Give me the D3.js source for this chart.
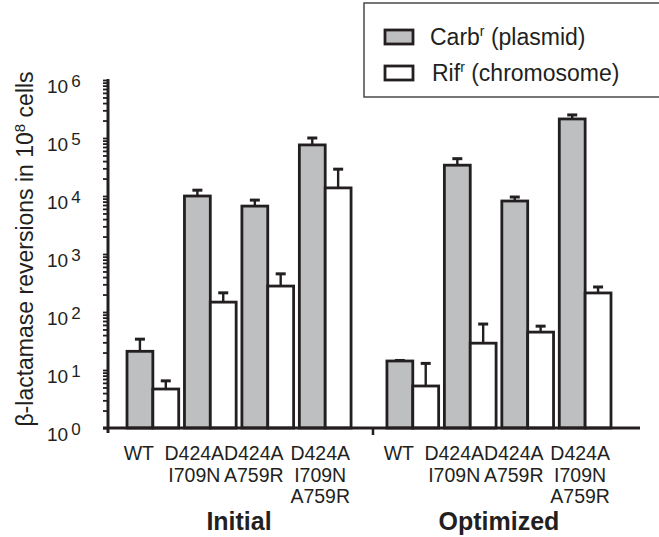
<!DOCTYPE html>
<html>
<head>
<meta charset="utf-8">
<script src="https://cdn.jsdelivr.net/npm/d3@7"></script>
<style>
  body { margin: 0; background: #fff; }
  text { font-family: "Liberation Sans", Arial, Helvetica, sans-serif; fill: #231f20; }
</style>
</head>
<body>
<script>
// data (reversions per 10^8 cells, log scale)
var groups = ["Initial", "Optimized"];
var mutants = ["WT", "D424A I709N", "D424A A759R", "D424A I709N A759R"];
var series = ["carb", "rif"];
var seriesNames = ["Carb", "Rif"];
var seriesNotes = ["(plasmid)", "(chromosome)"];

var carbInitial = [21, 10000, 6700, 76000];
var carbInitialHi = [34, 12600, 8500, 100000];
var rifInitial = [4.7, 148, 280, 13800];
var rifInitialHi = [6.5, 214, 455, 29000];

var carbOptimized = [14.3, 34000, 8200, 213000];
var carbOptimizedHi = [14.6, 44000, 9600, 250000];
var rifOptimized = [5.3, 29, 45, 213];
var rifOptimizedHi = [13, 62, 57, 270];

var yTicks = [1, 10, 100, 1000, 10000, 100000, 1000000];

// layout
var width = 659, height = 537;
var axisX = 108, baseY = 428, topY = 80;
var labelDx = [-14, -16, -14, -5];
var ink = "#231f20";
var gray = "#bebfc1";

var svg = d3.select("body")
  .append("svg")
  .attr("width", width)
  .attr("height", height);

var y = d3.scaleLog().domain([1, 1e6]).range([baseY, topY]);

var x0 = d3.scaleBand().domain(groups).range([127, 611]).paddingInner(0.138);
var x1 = d3.scaleBand().domain(mutants).range([0, x0.bandwidth()]).paddingInner(0.1);
var x2 = d3.scaleBand().domain(series).range([0, x1.bandwidth()]);

var values = {
  Initial: { carb: carbInitial, rif: rifInitial, carbHi: carbInitialHi, rifHi: rifInitialHi },
  Optimized: { carb: carbOptimized, rif: rifOptimized, carbHi: carbOptimizedHi, rifHi: rifOptimizedHi }
};

var rows = [];
groups.forEach(function(g){
  mutants.forEach(function(m, i){
    series.forEach(function(s){
      rows.push({ g: g, m: m, s: s, v: values[g][s][i], hi: values[g][s + "Hi"][i] });
    });
  });
});

// y axis ticks (log minor ticks included)
var yAxis = d3.axisLeft(y)
  .tickValues(y.ticks())
  .tickSize(5)
  .tickFormat("");

var yg = svg.append("g")
  .attr("transform", "translate(" + axisX + ",0)")
  .call(yAxis);
yg.select(".domain").remove();
yg.selectAll(".tick line").attr("stroke", ink).attr("stroke-width", 1.8);

svg.append("line")
  .attr("x1", axisX).attr("x2", axisX)
  .attr("y1", topY - 1).attr("y2", baseY + 5)
  .attr("stroke", ink).attr("stroke-width", 3);

// tick labels 10^n
var tl = svg.selectAll(".ylab")
  .data(yTicks)
  .enter()
  .append("text")
  .attr("class", "ylab")
  .attr("x", 47)
  .attr("y", function(d){ return y(d) + 13; })
  .attr("font-size", 19);
tl.append("tspan").text("10");
tl.append("tspan")
  .attr("dx", 3)
  .attr("dy", -6)
  .attr("font-size", 17)
  .text(function(d){ return Math.round(Math.log10(d)); });

// y title
var yt = svg.append("text")
  .attr("transform", "translate(33," + 249 + ") rotate(-90)")
  .attr("text-anchor", "middle")
  .attr("font-size", 23);
yt.append("tspan").text("β-lactamase reversions in 10");
yt.append("tspan").attr("dy", -8).attr("font-size", 15).text("8");
yt.append("tspan").attr("dy", 8).text(" cells");

// bars
svg.selectAll(".bar")
  .data(rows)
  .enter()
  .append("rect")
  .attr("class", "bar")
  .attr("x", function(d){ return x0(d.g) + x1(d.m) + x2(d.s); })
  .attr("y", function(d){ return y(d.v); })
  .attr("width", x2.bandwidth())
  .attr("height", function(d){ return baseY - y(d.v); })
  .attr("fill", function(d){ return d.s === "carb" ? gray : "#fff"; })
  .attr("stroke", ink)
  .attr("stroke-width", 2.8);

// error bars
var eb = svg.selectAll(".err")
  .data(rows)
  .enter()
  .append("g")
  .attr("class", "err")
  .attr("transform", function(d){
    return "translate(" + (x0(d.g) + x1(d.m) + x2(d.s) + x2.bandwidth() / 2) + ",0)";
  });
eb.append("line")
  .attr("y1", function(d){ return y(d.v); })
  .attr("y2", function(d){ return y(d.hi); })
  .attr("stroke", ink).attr("stroke-width", 2.4);
eb.append("line")
  .attr("x1", -5).attr("x2", 5)
  .attr("y1", function(d){ return y(d.hi); })
  .attr("y2", function(d){ return y(d.hi); })
  .attr("stroke", ink).attr("stroke-width", 3);

// baseline and group divider tick
svg.append("line")
  .attr("x1", 103).attr("x2", 640)
  .attr("y1", baseY).attr("y2", baseY)
  .attr("stroke", ink).attr("stroke-width", 3);
svg.append("line")
  .attr("x1", 373).attr("x2", 373)
  .attr("y1", baseY).attr("y2", baseY + 7)
  .attr("stroke", ink).attr("stroke-width", 2.5);

// category labels
groups.forEach(function(g){
  mutants.forEach(function(m, i){
    var cx = x0(g) + x1(m) + x1.bandwidth() / 2 + labelDx[i];
    var t = svg.append("text")
      .attr("text-anchor", "middle")
      .attr("font-size", 19.5);
    m.split(" ").forEach(function(part, k){
      t.append("tspan")
        .attr("x", cx)
        .attr("y", 460 + k * 21.5)
        .text(part);
    });
  });
  svg.append("text")
    .attr("x", x0(g) + x0.bandwidth() / 2)
    .attr("y", 530)
    .attr("text-anchor", "middle")
    .attr("font-size", 25)
    .attr("font-weight", "bold")
    .text(g);
});

// legend
var lg = svg.append("g");
lg.append("rect")
  .attr("x", 364).attr("y", 3)
  .attr("width", 310).attr("height", 94)
  .attr("fill", "#fff")
  .attr("stroke", "#4a4a4a")
  .attr("stroke-width", 1.5);

series.forEach(function(s, i){
  var yy = 30 + i * 36;
  lg.append("rect")
    .attr("x", 385).attr("y", yy)
    .attr("width", 28).attr("height", 14)
    .attr("fill", s === "carb" ? gray : "#fff")
    .attr("stroke", ink)
    .attr("stroke-width", 2.8);
  var t = lg.append("text")
    .attr("x", i === 0 ? 430 : 432)
    .attr("y", yy + 15)
    .attr("font-size", 23);
  t.append("tspan").text(seriesNames[i]);
  t.append("tspan").attr("dy", -9).attr("font-size", 14).text("r");
  t.append("tspan").attr("dy", 9).text(" " + seriesNotes[i]);
});
</script>
</body>
</html>
